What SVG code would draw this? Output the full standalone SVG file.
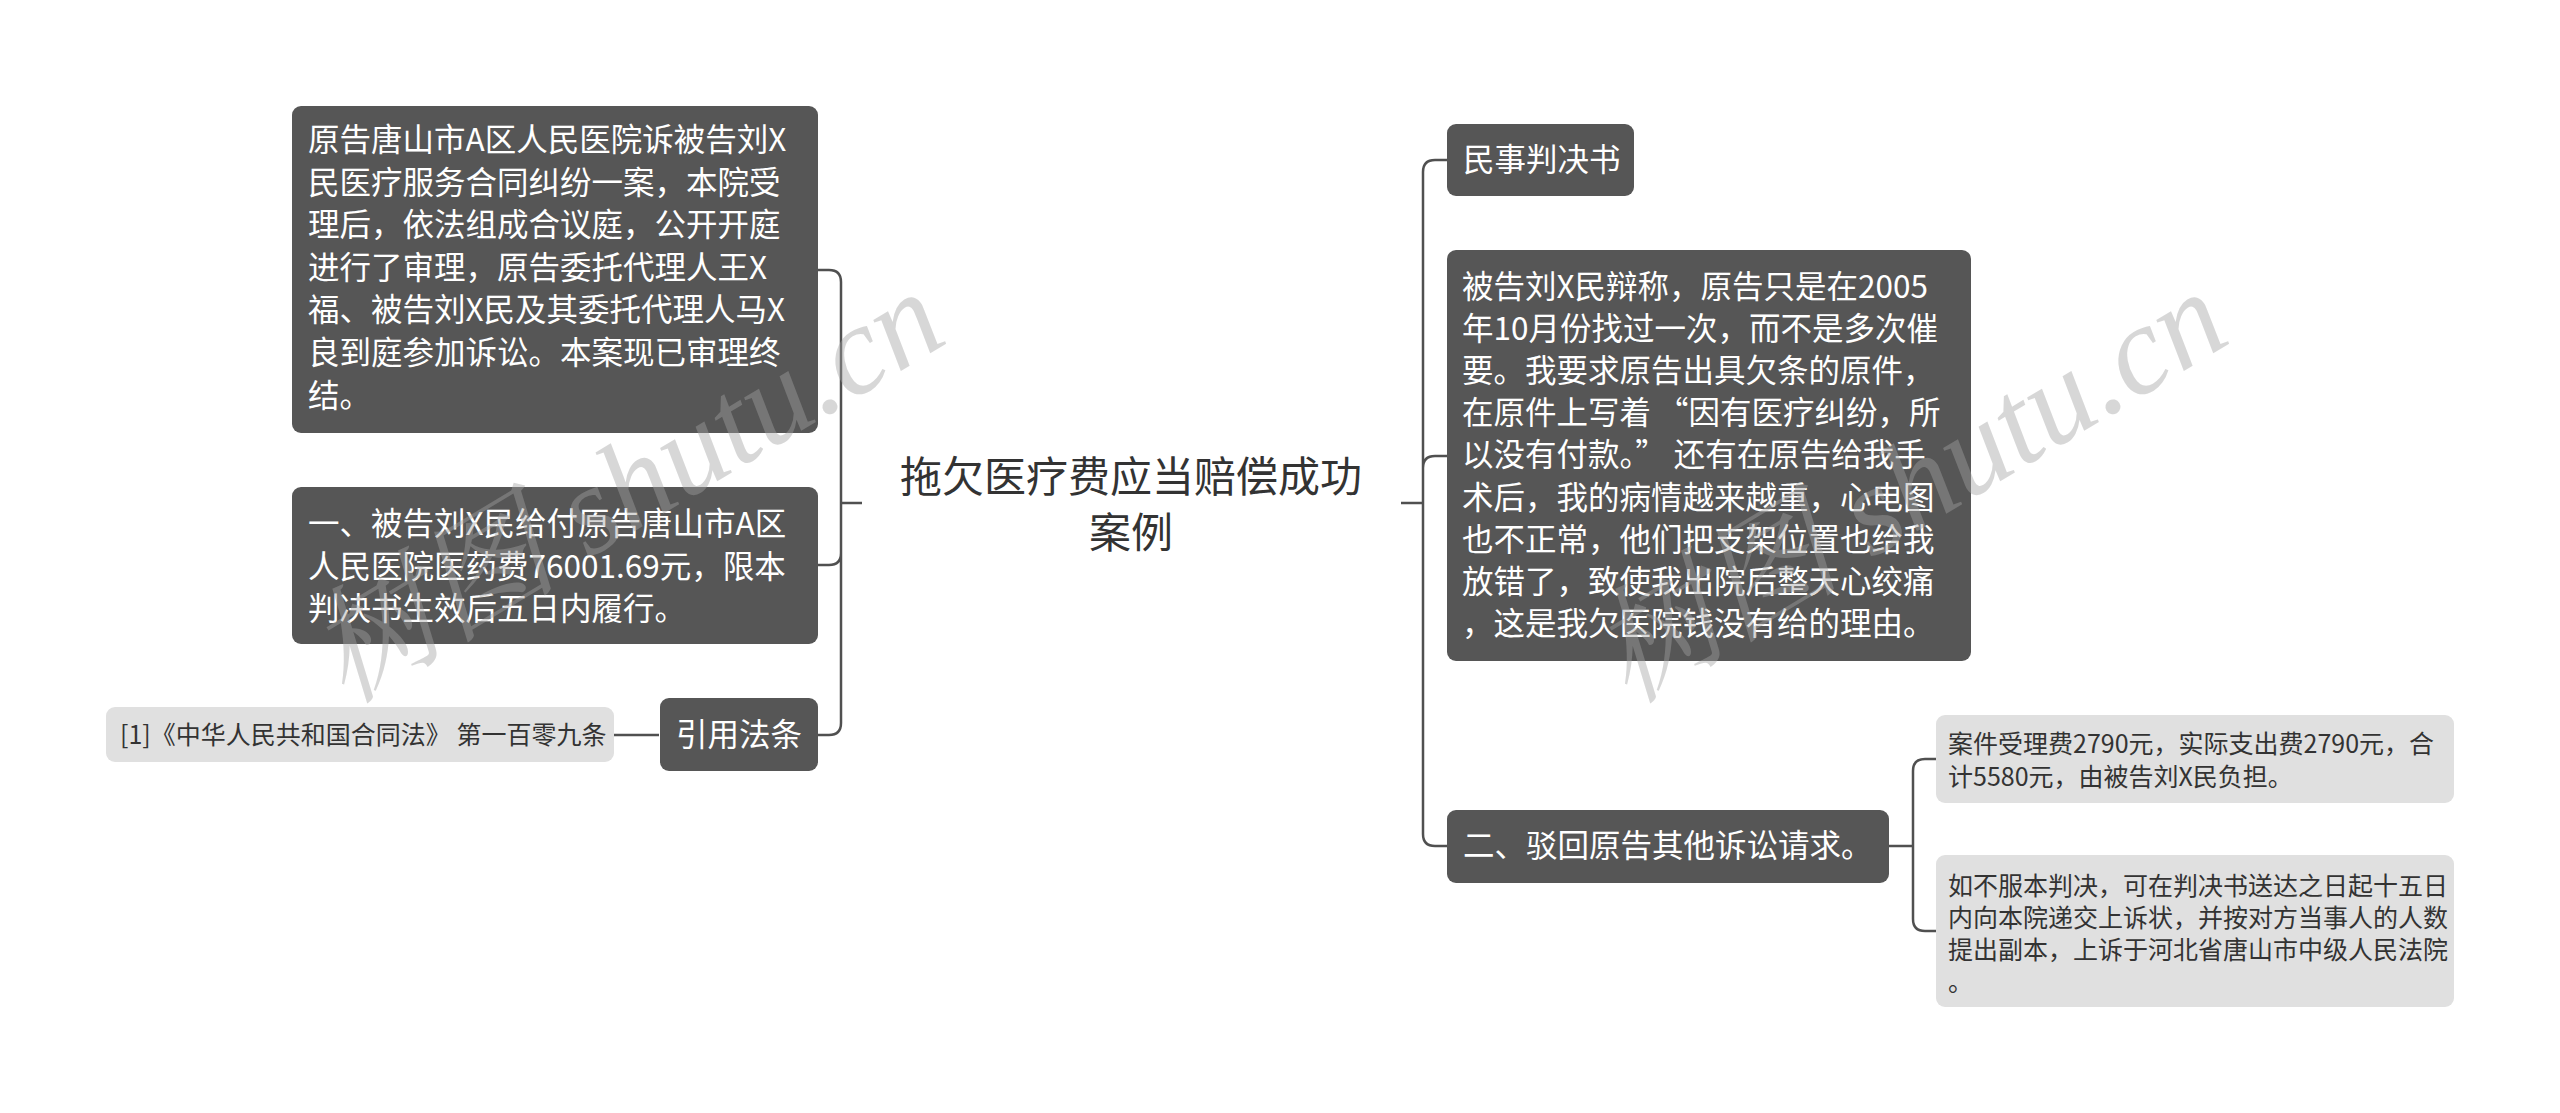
<svg xmlns="http://www.w3.org/2000/svg" width="2560" height="1113" viewBox="0 0 2560 1113">
<style>
.dark{fill:#565656}
.light{fill:#e0e0e0}
.wt{font-family:"Noto Sans CJK SC","Noto Sans",sans-serif;font-size:31.5px;fill:#ffffff}
.st{font-family:"Noto Sans CJK SC","Noto Sans",sans-serif;font-size:25px;fill:#333333}
.title{font-family:"Noto Sans CJK SC","Noto Sans",sans-serif;font-size:42px;fill:#333333;text-anchor:middle}
.conn{fill:none;stroke:#505050;stroke-width:2.5}
.wm{font-family:"Liberation Serif","Noto Serif CJK SC","Noto Sans CJK SC",serif;font-style:italic;font-size:126px;fill:#a2a2a2;opacity:0.42}
</style>
<rect width="2560" height="1113" fill="#ffffff"/>
<g id="connectors">
<path class="conn" d="M862 503H841M841 503V282Q841 270 829 270H818M841 503V553Q841 565 829 565H818M841 503V723Q841 735 829 735H818"/>
<path class="conn" d="M659 735H614"/>
<path class="conn" d="M1401 503H1423M1423 503V172Q1423 160 1435 160H1447M1423 503V468Q1423 456 1435 456H1447M1423 503V834Q1423 846 1435 846H1447"/>
<path class="conn" d="M1889 846H1913M1913 846V771Q1913 759 1925 759H1936M1913 846V919Q1913 931 1925 931H1936"/>
</g>
<g id="root">
<text class="title" x="1131" y="492">拖欠医疗费应当赔偿成功</text>
<text class="title" x="1131" y="548">案例</text>
</g>
<g id="node-left-1">
<rect class="dark" x="292" y="106" width="526" height="327" rx="9"/>
<text class="wt" x="308"><tspan x="308" y="151">原告唐山市A区人民医院诉被告刘X</tspan><tspan x="308" y="193.6">民医疗服务合同纠纷一案，本院受</tspan><tspan x="308" y="236.2">理后，依法组成合议庭，公开开庭</tspan><tspan x="308" y="278.8">进行了审理，原告委托代理人王X</tspan><tspan x="308" y="321.4">福、被告刘X民及其委托代理人马X</tspan><tspan x="308" y="364">良到庭参加诉讼。本案现已审理终</tspan><tspan x="308" y="406.6">结。</tspan></text>
</g>
<g id="node-left-2">
<rect class="dark" x="292" y="487" width="526" height="157" rx="9"/>
<text class="wt"><tspan x="308" y="535">一、被告刘X民给付原告唐山市A区</tspan><tspan x="308" y="577.5">人民医院医药费76001.69元，限本</tspan><tspan x="308" y="620">判决书生效后五日内履行。</tspan></text>
</g>
<g id="node-left-3">
<rect class="dark" x="660" y="698" width="158" height="73" rx="9"/>
<text class="wt" x="676" y="746">引用法条</text>
</g>
<g id="node-citation">
<rect class="light" x="106" y="707" width="508" height="55" rx="9"/>
<text class="st" x="120" y="744">[1]《中华人民共和国合同法》 第一百零九条</text>
</g>
<g id="node-right-1">
<rect class="dark" x="1447" y="124" width="187" height="72" rx="9"/>
<text class="wt" x="1463" y="171">民事判决书</text>
</g>
<g id="node-right-2">
<rect class="dark" x="1447" y="250" width="524" height="411" rx="9"/>
<text class="wt"><tspan x="1462" y="298">被告刘X民辩称，原告只是在2005</tspan><tspan x="1462" y="340.1">年10月份找过一次，而不是多次催</tspan><tspan x="1462" y="382.2">要。我要求原告出具欠条的原件，</tspan><tspan x="1462" y="424.3">在原件上写着<tspan dx="6">“</tspan>因有医疗纠纷，所</tspan><tspan x="1462" y="466.4">以没有付款。”<tspan dx="7">还有在原告给我手</tspan></tspan><tspan x="1462" y="508.5">术后，我的病情越来越重，心电图</tspan><tspan x="1462" y="550.6">也不正常，他们把支架位置也给我</tspan><tspan x="1462" y="592.7">放错了，致使我出院后整天心绞痛</tspan><tspan x="1462" y="634.8">，这是我欠医院钱没有给的理由。</tspan></text>
</g>
<g id="node-right-3">
<rect class="dark" x="1447" y="810" width="442" height="73" rx="9"/>
<text class="wt" x="1463" y="857">二、驳回原告其他诉讼请求。</text>
</g>
<g id="node-right-3-1">
<rect class="light" x="1936" y="715" width="518" height="88" rx="9"/>
<text class="st"><tspan x="1948" y="753">案件受理费2790元，实际支出费2790元，合</tspan><tspan x="1948" y="786">计5580元，由被告刘X民负担。</tspan></text>
</g>
<g id="node-right-3-2">
<rect class="light" x="1936" y="855" width="518" height="152" rx="9"/>
<text class="st"><tspan x="1948" y="895">如不服本判决，可在判决书送达之日起十五日</tspan><tspan x="1948" y="927">内向本院递交上诉状，并按对方当事人的人数</tspan><tspan x="1948" y="959">提出副本，上诉于河北省唐山市中级人民法院</tspan><tspan x="1948" y="991">。</tspan></text>
</g>
<g id="watermarks">
<text class="wm" transform="translate(345 705) rotate(-31)">树图 shutu.cn</text>
<text class="wm" transform="translate(1628 705) rotate(-31)">树图 shutu.cn</text>
</g>
</svg>
